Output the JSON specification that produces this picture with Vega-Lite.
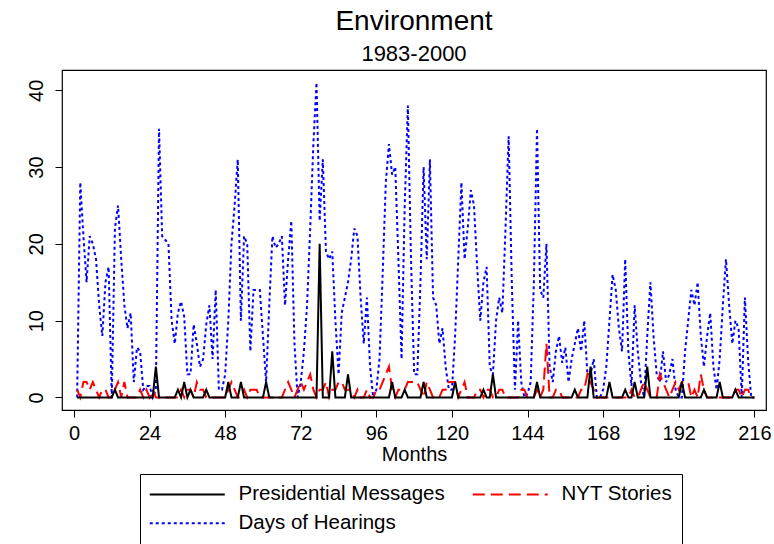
{
  "$schema": "https://vega.github.io/schema/vega-lite/v6.json",
  "width": 704,
  "height": 340,
  "autosize": "none",
  "padding": {"left": 62, "top": 70, "right": 8, "bottom": 134},
  "config": {
    "font": "Liberation Sans",
    "view": {"stroke": "black", "strokeWidth": 1.2}
  },
  "title": {
    "text": "Environment",
    "subtitle": "1983-2000",
    "fontSize": 28,
    "subtitleFontSize": 22,
    "font": "Liberation Sans",
    "subtitleFont": "Liberation Sans",
    "fontWeight": "normal",
    "color": "black",
    "subtitleColor": "black",
    "anchor": "middle",
    "offset": 5,
    "subtitlePadding": 8
  },
  "data": {"values": [
{"m":1,"pm":0,"nyt":1,"dh":0},{"m":2,"pm":0,"nyt":0,"dh":28},{"m":3,"pm":0,"nyt":2,"dh":21},{"m":4,"pm":0,"nyt":2,"dh":15},{"m":5,"pm":0,"nyt":1,"dh":21},{"m":6,"pm":0,"nyt":2,"dh":20},{"m":7,"pm":0,"nyt":1,"dh":18},{"m":8,"pm":0,"nyt":0,"dh":12},{"m":9,"pm":0,"nyt":1,"dh":8},{"m":10,"pm":0,"nyt":1,"dh":15},
{"m":11,"pm":0,"nyt":0,"dh":17},{"m":12,"pm":0,"nyt":0,"dh":0},{"m":13,"pm":1,"nyt":1,"dh":22},{"m":14,"pm":0,"nyt":2,"dh":25},{"m":15,"pm":0,"nyt":0,"dh":18},{"m":16,"pm":0,"nyt":2,"dh":12},{"m":17,"pm":0,"nyt":0,"dh":9},{"m":18,"pm":0,"nyt":0,"dh":11},{"m":19,"pm":0,"nyt":0,"dh":2},{"m":20,"pm":0,"nyt":0,"dh":6.5},
{"m":21,"pm":0,"nyt":1,"dh":6},{"m":22,"pm":0,"nyt":0,"dh":1},{"m":23,"pm":0,"nyt":1,"dh":1.5},{"m":24,"pm":0,"nyt":0,"dh":1.5},{"m":25,"pm":0,"nyt":1,"dh":0},{"m":26,"pm":4,"nyt":0,"dh":1},{"m":27,"pm":0,"nyt":0,"dh":35},{"m":28,"pm":0,"nyt":0,"dh":21},{"m":29,"pm":0,"nyt":0,"dh":20.5},{"m":30,"pm":0,"nyt":0,"dh":20},
{"m":31,"pm":0,"nyt":0,"dh":10},{"m":32,"pm":0,"nyt":0,"dh":7},{"m":33,"pm":1,"nyt":0,"dh":11},{"m":34,"pm":0,"nyt":1,"dh":12.5},{"m":35,"pm":2,"nyt":0,"dh":10.5},{"m":36,"pm":0,"nyt":1,"dh":3},{"m":37,"pm":1,"nyt":1,"dh":3},{"m":38,"pm":0,"nyt":0,"dh":9.5},{"m":39,"pm":0,"nyt":2,"dh":7},{"m":40,"pm":0,"nyt":1,"dh":4},
{"m":41,"pm":0,"nyt":1,"dh":5},{"m":42,"pm":1,"nyt":0,"dh":9.5},{"m":43,"pm":0,"nyt":0,"dh":12},{"m":44,"pm":0,"nyt":0,"dh":5},{"m":45,"pm":0,"nyt":0,"dh":14},{"m":46,"pm":0,"nyt":0,"dh":1},{"m":47,"pm":0,"nyt":0,"dh":1},{"m":48,"pm":0,"nyt":0,"dh":3},{"m":49,"pm":2,"nyt":1,"dh":10},{"m":50,"pm":0,"nyt":2,"dh":20},
{"m":51,"pm":0,"nyt":1,"dh":25},{"m":52,"pm":0,"nyt":0,"dh":31},{"m":53,"pm":2,"nyt":0,"dh":10},{"m":54,"pm":0,"nyt":1,"dh":21},{"m":55,"pm":0,"nyt":0,"dh":20},{"m":56,"pm":0,"nyt":1,"dh":6},{"m":57,"pm":0,"nyt":1,"dh":14},{"m":58,"pm":0,"nyt":1,"dh":14},{"m":59,"pm":0,"nyt":0,"dh":14},{"m":60,"pm":0,"nyt":0,"dh":8},
{"m":61,"pm":2,"nyt":0,"dh":2},{"m":62,"pm":0,"nyt":0,"dh":12},{"m":63,"pm":0,"nyt":0,"dh":21},{"m":64,"pm":0,"nyt":0,"dh":19.5},{"m":65,"pm":0,"nyt":0,"dh":20},{"m":66,"pm":0,"nyt":0,"dh":21},{"m":67,"pm":0,"nyt":1,"dh":12},{"m":68,"pm":0,"nyt":2,"dh":18},{"m":69,"pm":0,"nyt":1,"dh":23},{"m":70,"pm":0,"nyt":0,"dh":7},
{"m":71,"pm":0,"nyt":1,"dh":0},{"m":72,"pm":0,"nyt":2,"dh":2},{"m":73,"pm":0,"nyt":1,"dh":6},{"m":74,"pm":0,"nyt":2,"dh":12},{"m":75,"pm":0,"nyt":3,"dh":22},{"m":76,"pm":0,"nyt":1,"dh":33},{"m":77,"pm":0,"nyt":0,"dh":41},{"m":78,"pm":20,"nyt":1,"dh":23},{"m":79,"pm":0,"nyt":1,"dh":31},{"m":80,"pm":0,"nyt":2,"dh":19},
{"m":81,"pm":0,"nyt":0,"dh":18},{"m":82,"pm":6,"nyt":1,"dh":19},{"m":83,"pm":0,"nyt":1,"dh":10},{"m":84,"pm":0,"nyt":2,"dh":3},{"m":85,"pm":0,"nyt":2,"dh":11},{"m":86,"pm":0,"nyt":1,"dh":13},{"m":87,"pm":3,"nyt":1,"dh":15},{"m":88,"pm":0,"nyt":1,"dh":18},{"m":89,"pm":0,"nyt":0,"dh":22},{"m":90,"pm":0,"nyt":1,"dh":21},
{"m":91,"pm":0,"nyt":0,"dh":13},{"m":92,"pm":0,"nyt":0,"dh":7},{"m":93,"pm":0,"nyt":1,"dh":13},{"m":94,"pm":0,"nyt":0,"dh":4},{"m":95,"pm":0,"nyt":0,"dh":0},{"m":96,"pm":0,"nyt":1,"dh":1},{"m":97,"pm":0,"nyt":1,"dh":5},{"m":98,"pm":0,"nyt":2,"dh":16},{"m":99,"pm":0,"nyt":3,"dh":28},{"m":100,"pm":0,"nyt":4,"dh":33},
{"m":101,"pm":2,"nyt":1,"dh":29},{"m":102,"pm":0,"nyt":0,"dh":30},{"m":103,"pm":0,"nyt":1,"dh":18},{"m":104,"pm":0,"nyt":1,"dh":5},{"m":105,"pm":1,"nyt":1,"dh":25},{"m":106,"pm":0,"nyt":2,"dh":38},{"m":107,"pm":0,"nyt":2,"dh":18},{"m":108,"pm":0,"nyt":2,"dh":3},{"m":109,"pm":0,"nyt":2,"dh":3},{"m":110,"pm":0,"nyt":1,"dh":15},
{"m":111,"pm":2,"nyt":0,"dh":30},{"m":112,"pm":0,"nyt":2,"dh":18},{"m":113,"pm":0,"nyt":1,"dh":31},{"m":114,"pm":0,"nyt":0,"dh":13},{"m":115,"pm":0,"nyt":0,"dh":12},{"m":116,"pm":0,"nyt":0,"dh":7},{"m":117,"pm":0,"nyt":1,"dh":9},{"m":118,"pm":0,"nyt":1,"dh":4},{"m":119,"pm":0,"nyt":2,"dh":1},{"m":120,"pm":0,"nyt":2,"dh":1},
{"m":121,"pm":2,"nyt":2,"dh":8},{"m":122,"pm":0,"nyt":0,"dh":18},{"m":123,"pm":0,"nyt":1,"dh":28},{"m":124,"pm":0,"nyt":2,"dh":18},{"m":125,"pm":0,"nyt":0,"dh":22},{"m":126,"pm":0,"nyt":0,"dh":27},{"m":127,"pm":0,"nyt":0,"dh":25},{"m":128,"pm":0,"nyt":1,"dh":17},{"m":129,"pm":0,"nyt":1,"dh":10},{"m":130,"pm":1,"nyt":0,"dh":15},
{"m":131,"pm":0,"nyt":1,"dh":17},{"m":132,"pm":0,"nyt":1,"dh":4},{"m":133,"pm":3,"nyt":0,"dh":3},{"m":134,"pm":0,"nyt":0,"dh":10},{"m":135,"pm":0,"nyt":1,"dh":13},{"m":136,"pm":0,"nyt":1,"dh":11},{"m":137,"pm":0,"nyt":0,"dh":22},{"m":138,"pm":0,"nyt":0,"dh":34},{"m":139,"pm":0,"nyt":0,"dh":15},{"m":140,"pm":0,"nyt":0,"dh":1},
{"m":141,"pm":0,"nyt":0,"dh":10},{"m":142,"pm":0,"nyt":1,"dh":2},{"m":143,"pm":0,"nyt":1,"dh":0},{"m":144,"pm":0,"nyt":0,"dh":0.5},{"m":145,"pm":0,"nyt":0,"dh":2},{"m":146,"pm":0,"nyt":0,"dh":15},{"m":147,"pm":2,"nyt":1,"dh":35},{"m":148,"pm":0,"nyt":0,"dh":14},{"m":149,"pm":0,"nyt":1,"dh":13},{"m":150,"pm":0,"nyt":7,"dh":20},
{"m":151,"pm":0,"nyt":0,"dh":4},{"m":152,"pm":0,"nyt":0,"dh":2},{"m":153,"pm":0,"nyt":1,"dh":6},{"m":154,"pm":0,"nyt":1,"dh":8},{"m":155,"pm":0,"nyt":0,"dh":4.5},{"m":156,"pm":0,"nyt":0,"dh":6.5},{"m":157,"pm":0,"nyt":0,"dh":2},{"m":158,"pm":0,"nyt":0,"dh":5},{"m":159,"pm":1,"nyt":0,"dh":7},{"m":160,"pm":0,"nyt":0,"dh":9},
{"m":161,"pm":0,"nyt":1,"dh":6},{"m":162,"pm":0,"nyt":1,"dh":10},{"m":163,"pm":0,"nyt":3,"dh":3},{"m":164,"pm":4,"nyt":2,"dh":3},{"m":165,"pm":0,"nyt":1,"dh":5},{"m":166,"pm":0,"nyt":0,"dh":0},{"m":167,"pm":0,"nyt":0,"dh":0},{"m":168,"pm":0,"nyt":0,"dh":1},{"m":169,"pm":0,"nyt":0,"dh":4},{"m":170,"pm":2,"nyt":0,"dh":10},
{"m":171,"pm":0,"nyt":0,"dh":16},{"m":172,"pm":0,"nyt":0,"dh":14},{"m":173,"pm":0,"nyt":0,"dh":9},{"m":174,"pm":0,"nyt":0,"dh":6},{"m":175,"pm":1,"nyt":0,"dh":18},{"m":176,"pm":0,"nyt":0,"dh":6},{"m":177,"pm":0,"nyt":1,"dh":1.5},{"m":178,"pm":2,"nyt":0,"dh":12},{"m":179,"pm":0,"nyt":0,"dh":6},{"m":180,"pm":0,"nyt":1,"dh":2},
{"m":181,"pm":0,"nyt":2,"dh":0},{"m":182,"pm":4,"nyt":1,"dh":8},{"m":183,"pm":0,"nyt":0,"dh":15},{"m":184,"pm":0,"nyt":0,"dh":8},{"m":185,"pm":0,"nyt":0,"dh":3},{"m":186,"pm":0,"nyt":3,"dh":2},{"m":187,"pm":0,"nyt":2,"dh":6},{"m":188,"pm":0,"nyt":1,"dh":2},{"m":189,"pm":0,"nyt":0,"dh":3},{"m":190,"pm":0,"nyt":1,"dh":5},
{"m":191,"pm":0,"nyt":2,"dh":1},{"m":192,"pm":0,"nyt":1,"dh":0},{"m":193,"pm":2,"nyt":2,"dh":0},{"m":194,"pm":0,"nyt":2,"dh":6},{"m":195,"pm":0,"nyt":2,"dh":10},{"m":196,"pm":0,"nyt":0,"dh":14},{"m":197,"pm":0,"nyt":1,"dh":12},{"m":198,"pm":0,"nyt":0,"dh":15},{"m":199,"pm":0,"nyt":3,"dh":8},{"m":200,"pm":1,"nyt":1,"dh":4},
{"m":201,"pm":0,"nyt":0,"dh":8},{"m":202,"pm":0,"nyt":0,"dh":11},{"m":203,"pm":0,"nyt":0,"dh":4},{"m":204,"pm":0,"nyt":0,"dh":1},{"m":205,"pm":2,"nyt":0,"dh":5},{"m":206,"pm":0,"nyt":0,"dh":12},{"m":207,"pm":0,"nyt":0,"dh":18},{"m":208,"pm":0,"nyt":0,"dh":12},{"m":209,"pm":0,"nyt":0,"dh":7},{"m":210,"pm":1,"nyt":1,"dh":10},
{"m":211,"pm":0,"nyt":1,"dh":9},{"m":212,"pm":0,"nyt":0,"dh":0},{"m":213,"pm":0,"nyt":1,"dh":13},{"m":214,"pm":0,"nyt":1,"dh":5},{"m":215,"pm":0,"nyt":0,"dh":0},{"m":216,"pm":0,"nyt":0,"dh":0}
  ]},
  "transform": [{"fold": ["dh", "nyt", "pm"], "as": ["series", "value"]}],
  "mark": {"type": "line", "strokeWidth": 2, "strokeCap": "butt", "clip": true},
  "encoding": {
    "x": {
      "field": "m", "type": "quantitative",
      "scale": {"domain": [-3.8, 219.7], "nice": false, "zero": false},
      "axis": {
        "values": [0, 24, 48, 72, 96, 120, 144, 168, 192, 216],
        "title": "Months", "grid": false, "domain": false,
        "tickColor": "black", "tickSize": 7, "tickWidth": 1,
        "labelFontSize": 20, "labelColor": "black", "labelPadding": 6, "labelFlush": false,
        "titleFontSize": 20, "titleFontWeight": "normal", "titleColor": "black", "titlePadding": 1
      }
    },
    "y": {
      "field": "value", "type": "quantitative",
      "scale": {"domain": [-1.64, 42.64], "nice": false, "zero": false},
      "axis": {
        "values": [0, 10, 20, 30, 40], "title": null, "grid": false, "domain": false,
        "tickColor": "black", "tickSize": 7, "tickWidth": 1,
        "labelFontSize": 20, "labelColor": "black", "labelAngle": -90,
        "labelAlign": "center", "labelBaseline": "bottom", "labelPadding": 9
      }
    },
    "color": {
      "field": "series", "type": "nominal",
      "scale": {"domain": ["pm", "nyt", "dh"], "range": ["#000000", "#ff0000", "#0000ff"]},
      "legend": {
        "title": null, "orient": "none", "legendX": 78, "legendY": 404,
        "direction": "horizontal", "columns": 2, "columnPadding": 23, "rowPadding": 8,
        "symbolType": "M-5,0H5", "symbolSize": 225, "symbolStrokeWidth": 2, "symbolOffset": 27,
        "labelFontSize": 20.5, "labelColor": "black", "labelOffset": 41, "labelLimit": 400,
        "strokeColor": "black", "fillColor": "white", "padding": 10,
        "labelExpr": "datum.value == 'pm' ? 'Presidential Messages' : datum.value == 'nyt' ? 'NYT Stories' : 'Days of Hearings'"
      }
    },
    "strokeDash": {
      "field": "series", "type": "nominal",
      "scale": {"domain": ["pm", "nyt", "dh"], "range": [[1, 0], [12, 6], [3, 3]]},
      "legend": {
        "title": null, "orient": "none", "legendX": 78, "legendY": 404,
        "direction": "horizontal", "columns": 2, "columnPadding": 23, "rowPadding": 8,
        "symbolType": "M-5,0H5", "symbolSize": 225, "symbolStrokeWidth": 2, "symbolOffset": 27,
        "labelFontSize": 20.5, "labelColor": "black", "labelOffset": 41, "labelLimit": 400,
        "strokeColor": "black", "fillColor": "white", "padding": 10,
        "labelExpr": "datum.value == 'pm' ? 'Presidential Messages' : datum.value == 'nyt' ? 'NYT Stories' : 'Days of Hearings'"
      }
    }
  }
}
